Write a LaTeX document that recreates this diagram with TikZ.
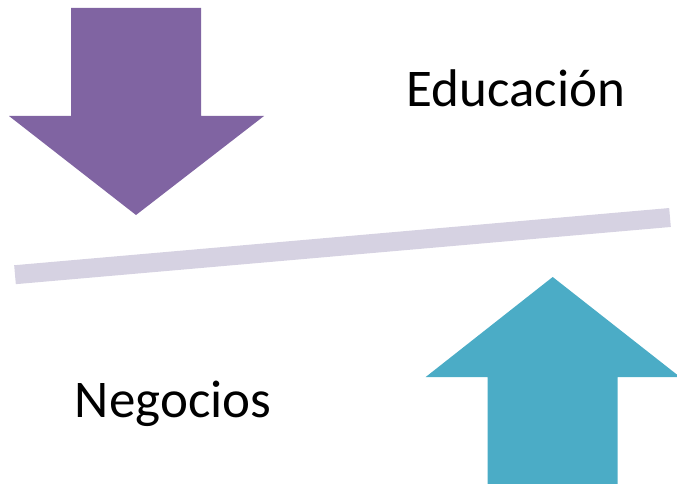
\documentclass[tikz,border=0pt]{standalone}
\usepackage{fontspec}
\setmainfont{Carlito}
\definecolor{arrowpurple}{HTML}{8064A2}
\definecolor{arrowblue}{HTML}{4BACC6}
\definecolor{barlav}{HTML}{D6D2E2}
\begin{document}
\begin{tikzpicture}[x=1pt,y=-1pt,
  lbl/.style={font=\fontsize{53}{60}\selectfont, anchor=base, inner sep=0pt, text=black}]
\useasboundingbox (0,0) rectangle (677,484);
% down arrow
\fill[arrowpurple] (71,8) -- (201,8) -- (201,116) -- (264,116) -- (136,215) -- (9,116) -- (71,116) -- cycle;
% bar
\coordinate (barL) at (15,274.7);
\coordinate (barR) at (670,217.5);
\draw[barlav, line width=19pt] (barL) -- (barR);
% up arrow
\fill[arrowblue] (487.5,490) -- (617.5,490) -- (617.5,377) -- (680,377) -- (552.7,277) -- (425.7,377) -- (487.5,377) -- cycle;
% labels
\node[lbl] (edu) at (516,107) {Educación};
\node[lbl] (neg) at (173,417) {Negocios};
\end{tikzpicture}
\end{document}
